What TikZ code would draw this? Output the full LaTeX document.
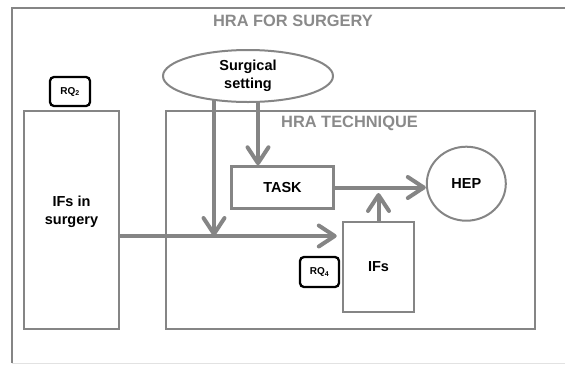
\documentclass[tikz,border=0pt]{standalone}
\usepackage{fontspec}
\setmainfont{Liberation Sans}
\usetikzlibrary{arrows.meta,shapes.geometric,backgrounds}
\definecolor{linegray}{HTML}{858585}
\definecolor{titlegray}{HTML}{8A8A8A}
\definecolor{faintgray}{HTML}{E2E2E2}
\begin{document}
\begin{tikzpicture}[x=1pt,y=-1pt,
  box/.style={draw=linegray, line width=2.5pt, inner sep=0pt},
  rqbox/.style={draw=black, line width=2.3pt, rounded corners=4pt, fill=white,
    minimum width=40pt, minimum height=29pt, inner sep=0pt,
    font=\fontsize{10}{12}\selectfont\bfseries},
  txt/.style={font=\fontsize{14.5}{17.5}\selectfont\bfseries, align=center, inner sep=0pt},
  ttl/.style={font=\fontsize{16.4}{19}\selectfont\bfseries, text=titlegray, inner sep=0pt},
  arr/.style={draw=linegray, line width=4pt,
    -{Straight Barb[length=16pt, width=21pt, line cap=round, line join=round]}}]
  \useasboundingbox (0,0) rectangle (565,365);

  % outer frame
  \coordinate (fr) at (12,8);
  \coordinate (frb) at (12,363);
  \draw[faintgray, line width=1pt] (frb) -- ++(560,0);
  \draw[linegray, line width=2pt] (frb) -- (fr) -- ++(560,0);
  \node[ttl] (title) at (293,21) {HRA FOR SURGERY};

  % left column
  \node[rqbox] (rq2) at (70,91.5) {RQ$_{\mathbf 2}$};
  \node[box, minimum width=95pt, minimum height=218pt] (surg) at (71.5,220) {};
  \node[txt] (surgtxt) at (71.5,212) {IFs in\\surgery};

  % technique frame
  \node[box, minimum width=369pt, minimum height=218pt] (tech) at (350.5,220) {};
  \node[ttl] (techtitle) at (349.5,123) {HRA TECHNIQUE};

  % inner elements
  \node[box, minimum width=102pt, minimum height=42pt, txt] (task) at (282.5,187.5) {TASK};
  \node[box, ellipse, fill=white, minimum width=79pt, minimum height=74pt, line width=2pt, txt] (hep) at (466.3,183.7) {HEP};
  \node[box, minimum width=71pt, minimum height=90pt, txt] (ifs) at (378.5,267) {IFs};
  \node[rqbox, minimum width=39pt, minimum height=30pt] (rq4) at (319.5,272) {RQ$_{\mathbf 4}$};

  % surgical setting
  \node[box, ellipse, fill=white, minimum width=170pt, minimum height=52pt, line width=2pt, txt] (setting) at (248,76) {Surgical\\setting};

  % connectors
  \coordinate (j) at (214,236);
  \coordinate (t) at (258,0);
  \coordinate (u) at (378.5,193);
  \begin{scope}[on background layer]
    \draw[arr] (setting.center -| j) -- (j);
    \draw[arr] (setting.center -| t) -- (t |- task.north);
  \end{scope}
  \draw[arr, shorten >=5pt] (surg.east |- j) -- (ifs.west |- j);
  \draw[arr] (task.east) -- (task.east -| hep.west);
  \draw[arr] (ifs.north) -- (u);
\end{tikzpicture}
\end{document}
